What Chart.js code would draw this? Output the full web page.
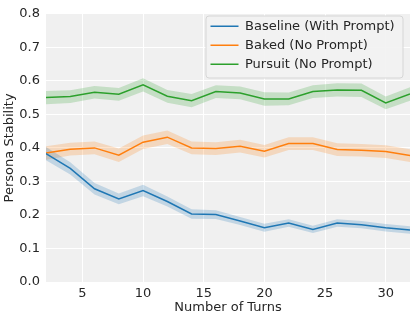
<!DOCTYPE html>
<html>
<head>
<meta charset="utf-8">
<script src="https://cdn.jsdelivr.net/npm/chart.js@4/dist/chart.umd.min.js"></script>
<style>
  html, body { margin: 0; padding: 0; background: #ffffff; }
  #wrap { width: 415px; height: 319px; position: relative; }
</style>
</head>
<body>
<div id="wrap"><canvas id="c" width="415" height="319"></canvas></div>
<script>
// ---- data ----
const turns = [2, 4, 6, 8, 10, 12, 14, 16, 18, 20, 22, 24, 26, 28, 30, 32];
const seriesNames = ["Baseline (With Prompt)", "Baked (No Prompt)", "Pursuit (No Prompt)"];
const baseline = [0.383, 0.339, 0.278, 0.248, 0.273, 0.240, 0.203, 0.201, 0.182, 0.162, 0.176, 0.157, 0.176, 0.171, 0.162, 0.155];
const baked    = [0.385, 0.396, 0.400, 0.378, 0.417, 0.432, 0.400, 0.398, 0.405, 0.390, 0.413, 0.413, 0.395, 0.393, 0.389, 0.377];
const pursuit  = [0.550, 0.553, 0.566, 0.560, 0.588, 0.554, 0.541, 0.568, 0.564, 0.546, 0.546, 0.568, 0.573, 0.572, 0.534, 0.561];
// half-width of the shaded confidence band
const baselineCI = [0.020, 0.018, 0.017, 0.016, 0.017, 0.015, 0.014, 0.013, 0.012, 0.012, 0.011, 0.011, 0.011, 0.011, 0.011, 0.011];
const bakedCI    = [0.020, 0.019, 0.019, 0.020, 0.020, 0.020, 0.019, 0.019, 0.019, 0.019, 0.019, 0.019, 0.019, 0.019, 0.019, 0.019];
const pursuitCI  = [0.020, 0.019, 0.019, 0.019, 0.020, 0.019, 0.020, 0.019, 0.019, 0.020, 0.019, 0.019, 0.020, 0.020, 0.019, 0.020];
const yTicks = [0.0, 0.1, 0.2, 0.3, 0.4, 0.5, 0.6, 0.7, 0.8];
const xTicks = [5, 10, 15, 20, 25, 30];

const colors = ["#1f77b4", "#ff7f0e", "#2ca02c"];
const bandColors = ["rgba(31,119,180,0.22)", "rgba(255,127,14,0.22)", "rgba(44,160,44,0.22)"];
const means = [baseline, baked, pursuit];
const cis = [baselineCI, bakedCI, pursuitCI];

const FONT = "'DejaVu Sans', sans-serif";
const TEXT = "#262626";

const pts = (arr) => arr.map((v, i) => ({ x: turns[i], y: v }));

const datasets = [];
means.forEach((m, k) => {
  datasets.push({
    label: seriesNames[k],
    data: pts(m),
    borderColor: colors[k],
    backgroundColor: colors[k],
    borderWidth: 1.5,
    pointRadius: 0,
    tension: 0,
    fill: false,
    isMean: true
  });
});
means.forEach((m, k) => {
  const base = datasets.length;
  datasets.push({
    label: "upper" + k,
    data: pts(m.map((v, i) => v + cis[k][i])),
    borderWidth: 0,
    borderColor: "rgba(0,0,0,0)",
    pointRadius: 0,
    tension: 0,
    fill: false
  });
  datasets.push({
    label: "lower" + k,
    data: pts(m.map((v, i) => v - cis[k][i])),
    borderWidth: 0,
    borderColor: "rgba(0,0,0,0)",
    backgroundColor: bandColors[k],
    pointRadius: 0,
    tension: 0,
    fill: base
  });
});

const LEGEND_PAD = 6;
const frame = { right: 403, top: 16, width: 197, height: 62 };

const layoutPlugin = {
  id: "layoutPlugin",
  beforeLayout(chart) {
    const lg = chart.legend;
    if (lg) {
      lg._layers = function () {
        return [{ z: 1, draw: (ca) => lg.draw(ca) }];
      };
    }
  },
  afterLayout(chart) {
    const lg = chart.legend;
    if (lg) {
      const fl = frame.right - frame.width;
      lg.left = fl + 4.5 - LEGEND_PAD;
      lg.top = frame.top - 2.2;
    }
  },
  beforeDraw(chart) {
    const { ctx, chartArea: a } = chart;
    ctx.save();
    ctx.fillStyle = "#f0f0f0";
    ctx.fillRect(a.left, a.top, a.right - a.left, a.bottom - a.top);
    ctx.restore();
  },
  afterDatasetsDraw(chart) {
    const ctx = chart.ctx;
    const x = frame.right - frame.width, y = frame.top, w = frame.width, h = frame.height, r = 3;
    ctx.save();
    ctx.beginPath();
    ctx.moveTo(x + r, y);
    ctx.lineTo(x + w - r, y);
    ctx.quadraticCurveTo(x + w, y, x + w, y + r);
    ctx.lineTo(x + w, y + h - r);
    ctx.quadraticCurveTo(x + w, y + h, x + w - r, y + h);
    ctx.lineTo(x + r, y + h);
    ctx.quadraticCurveTo(x, y + h, x, y + h - r);
    ctx.lineTo(x, y + r);
    ctx.quadraticCurveTo(x, y, x + r, y);
    ctx.closePath();
    ctx.fillStyle = "rgba(242,242,242,0.9)";
    ctx.fill();
    ctx.strokeStyle = "#d6d6d6";
    ctx.lineWidth = 1;
    ctx.stroke();
    ctx.restore();
  }
};

new Chart(document.getElementById("c"), {
  type: "line",
  data: { datasets },
  options: {
    responsive: false,
    animation: false,
    devicePixelRatio: 1,
    layout: { padding: { top: 3.2, right: 5, left: 0, bottom: 0 } },
    plugins: {
      tooltip: { enabled: false },
      legend: {
        position: "chartArea",
        align: "start",
        labels: {
          filter: (item, data) => !!data.datasets[item.datasetIndex].isMean,
          usePointStyle: true,
          pointStyle: "line",
          pointStyleWidth: 28,
          padding: LEGEND_PAD,
          color: TEXT,
          font: { family: FONT, size: 13 }
        }
      }
    },
    scales: {
      x: {
        type: "linear",
        min: 2,
        max: 32,
        border: { display: false },
        grid: { color: "#ffffff", lineWidth: 1, drawTicks: false },
        afterBuildTicks: (s) => { s.ticks = xTicks.map(v => ({ value: v })); },
        ticks: {
          includeBounds: false,
          padding: 4,
          color: TEXT,
          font: { family: FONT, size: 13 },
          maxRotation: 0
        },
        title: {
          display: true,
          text: "Number of Turns",
          color: TEXT,
          font: { family: FONT, size: 13 },
          padding: { top: 0, bottom: 4 }
        },
        afterFit: (s) => { s.height = 37; }
      },
      y: {
        min: 0,
        max: 0.8,
        border: { display: false },
        grid: { color: "#ffffff", lineWidth: 1, drawTicks: false },
        afterBuildTicks: (s) => { s.ticks = yTicks.map(v => ({ value: v })); },
        ticks: {
          padding: 6,
          color: TEXT,
          font: { family: FONT, size: 13 },
          callback: (v) => Number(v).toFixed(1)
        },
        title: {
          display: true,
          text: "Persona Stability",
          color: TEXT,
          font: { family: FONT, size: 13 },
          padding: { top: 2, bottom: 0 }
        },
        afterFit: (s) => { s.width = 46; }
      }
    }
  },
  plugins: [layoutPlugin]
});
</script>
</body>
</html>
